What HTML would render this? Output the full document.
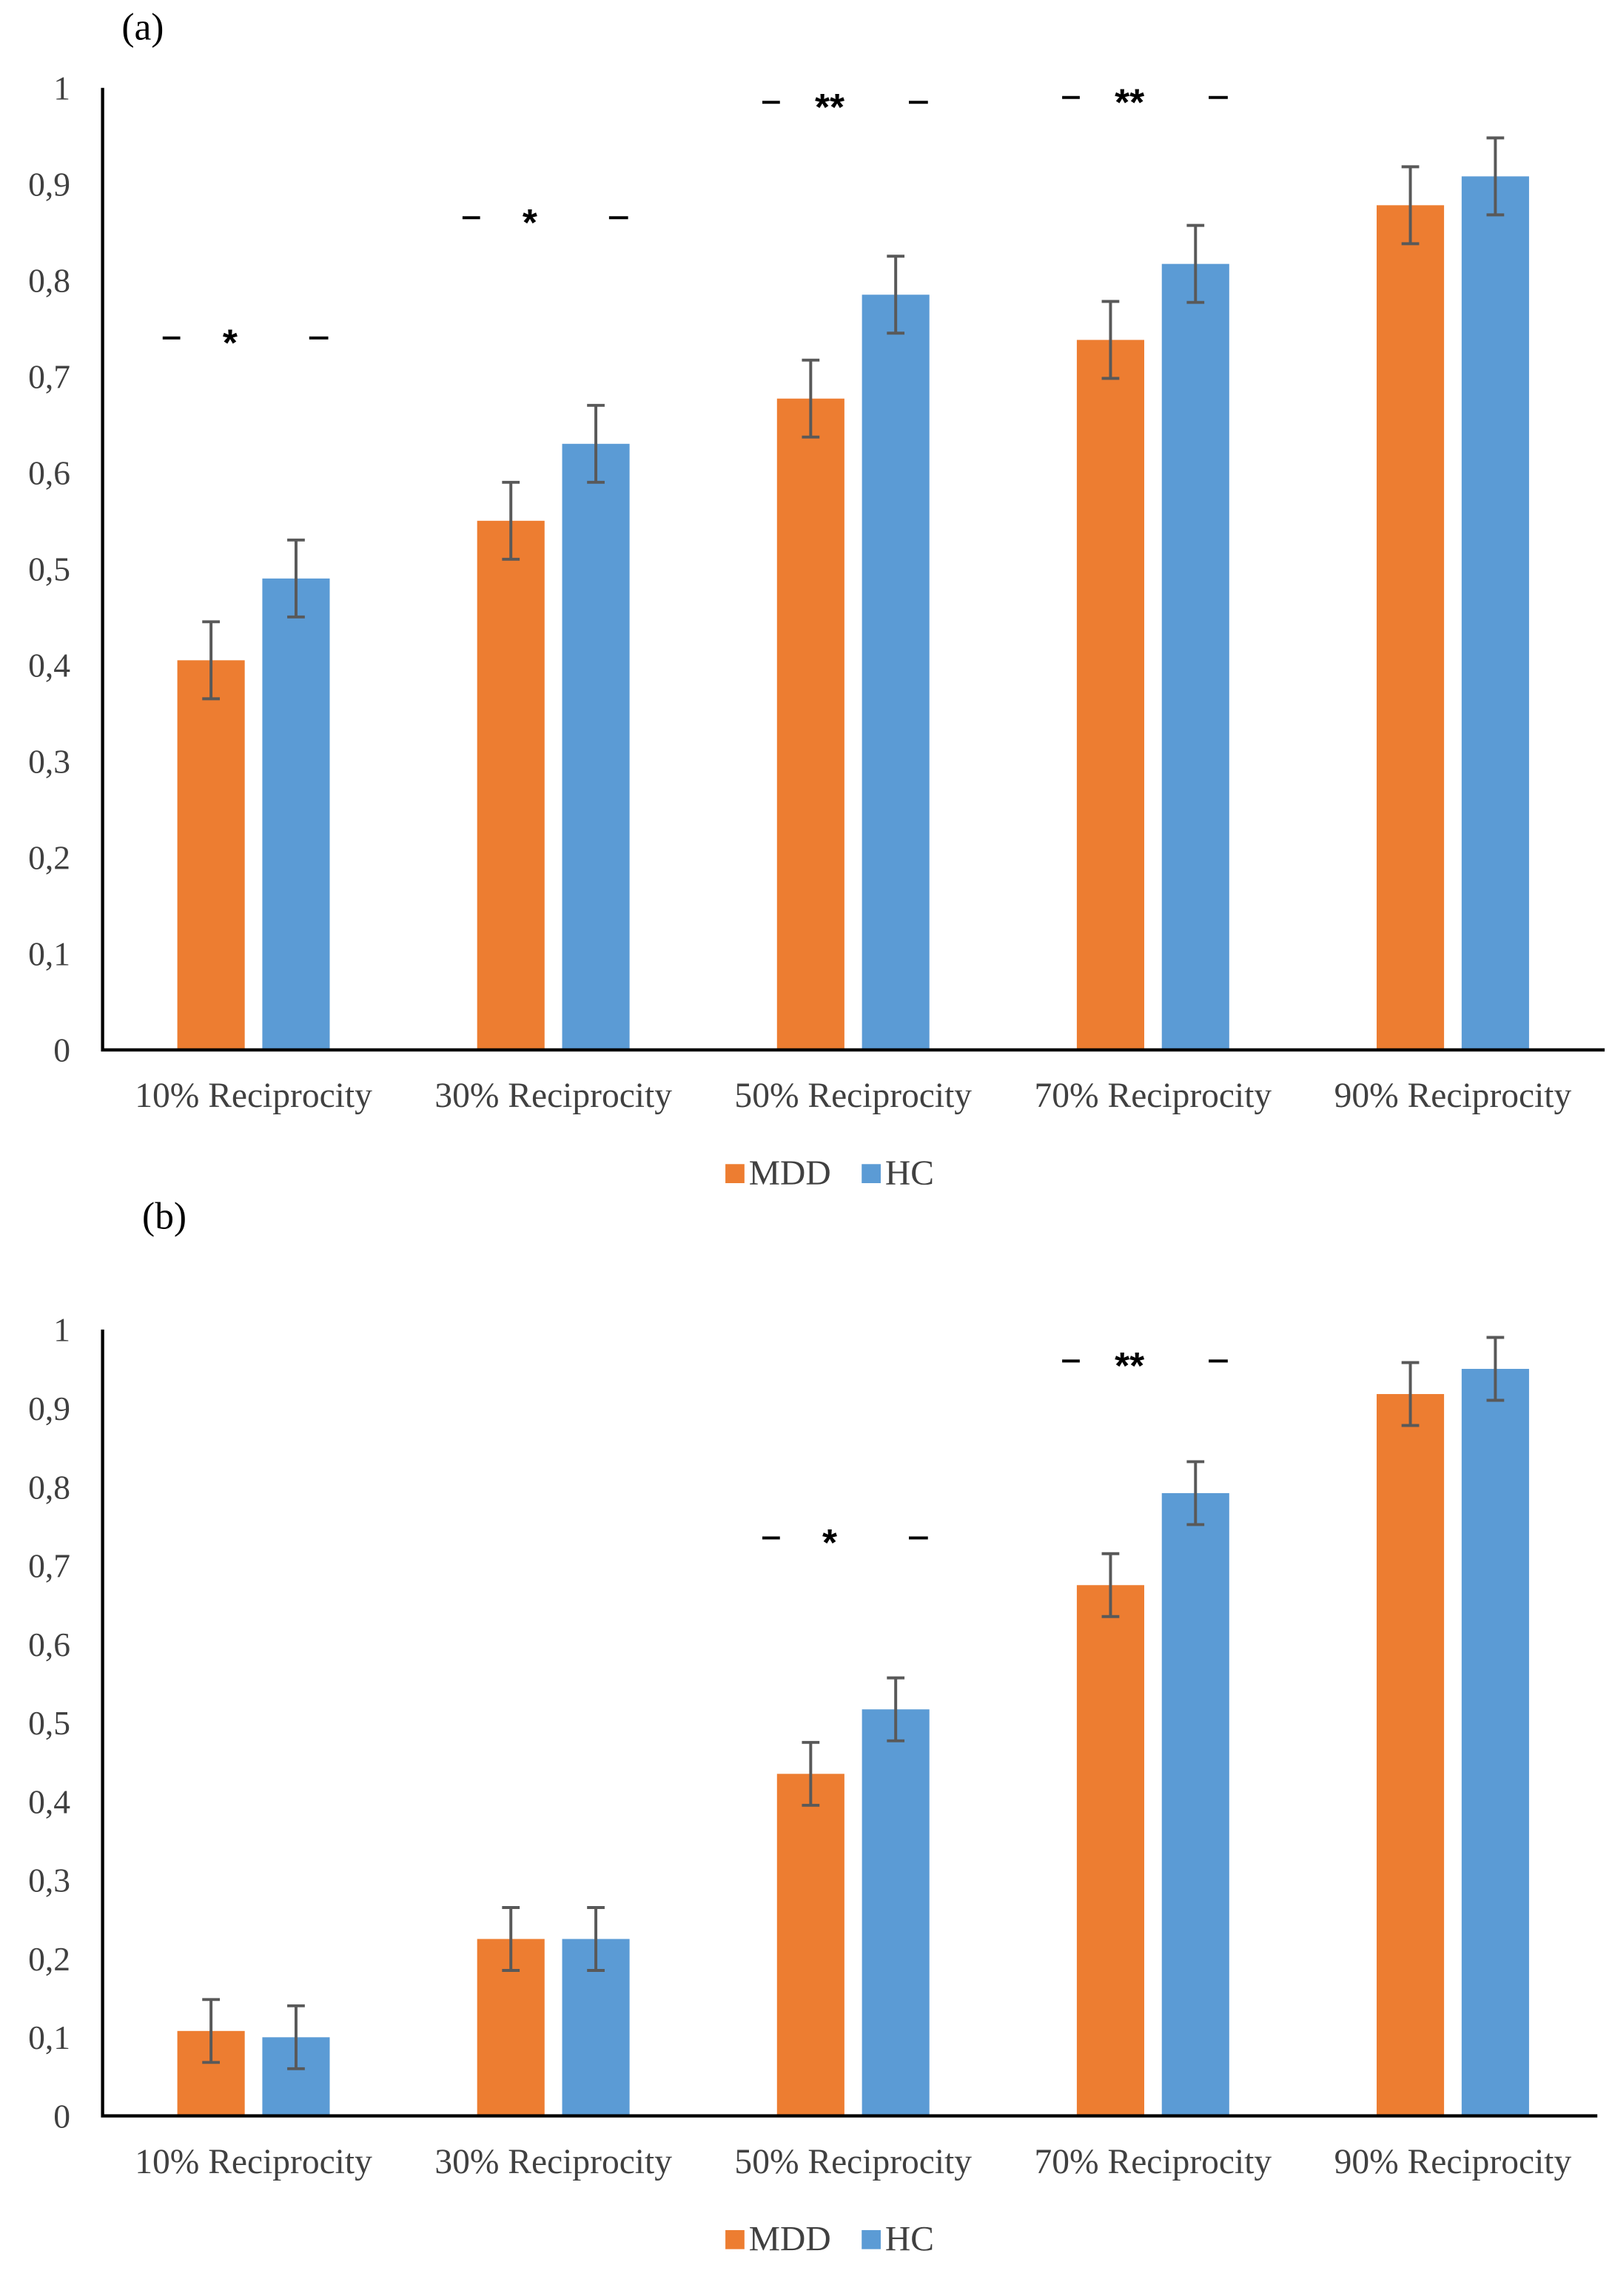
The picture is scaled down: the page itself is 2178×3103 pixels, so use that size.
<!DOCTYPE html>
<html><head><meta charset="utf-8"><style>
html,body{margin:0;padding:0;background:#fff;}
svg{display:block;font-family:"Liberation Serif",serif;}
</style></head><body>
<svg id="fig" width="2178" height="3103" viewBox="0 0 1100 1568" preserveAspectRatio="none" xmlns="http://www.w3.org/2000/svg"></svg>
<script>
const categories = ["10% Reciprocity","30% Reciprocity","50% Reciprocity","70% Reciprocity","90% Reciprocity"];
const ticks = ["0","0,1","0,2","0,3","0,4","0,5","0,6","0,7","0,8","0,9","1"];
const tickValues = [0,0.1,0.2,0.3,0.4,0.5,0.6,0.7,0.8,0.9,1];
const mddA = [0.405,0.55,0.677,0.738,0.878];
const hcA = [0.49,0.63,0.785,0.817,0.908];
const errA = [0.04,0.04,0.04,0.04,0.04];
const mddB = [0.108,0.225,0.435,0.675,0.918];
const hcB = [0.1,0.225,0.517,0.792,0.95];
const errB = [0.04,0.04,0.04,0.04,0.04];
const sigA = [["*",0.74,0],["*",0.865,1],["**",0.985,2],["**",0.99,3]];
const sigB = [["*",0.735,2],["**",0.96,3]];

const NS="http://www.w3.org/2000/svg";
const svg=document.getElementById('fig');
function mk(tag,attrs,parent){const e=document.createElementNS(NS,tag);for(const k in attrs)e.setAttribute(k,attrs[k]);(parent||svg).appendChild(e);return e;}

function chart(cfg){
  const g=mk('g',{});
  
  
  const y=v=>cfg.y0-(cfg.y0-cfg.y1)*v;
  const xc=i=>173+204.6*i;
  const t=mk('text',{x:cfg.lx,y:cfg.ly,'font-size':26,fill:'#000'},g);t.textContent=cfg.label;
  
  
  tickValues.forEach((v,i)=>{
    const tt=mk('text',{x:48,y:y(v)+8,'font-size':23,'text-anchor':'end',fill:'#404040'},g);
    tt.textContent=ticks[i];
    
    
  });
  categories.forEach((c,i)=>{
    [[cfg.mdd,'#ED7D31',-29],[cfg.hc,'#5B9BD5',29]].forEach(([arr,col,off],s)=>{
      const cx=xc(i)+off;
      const r=mk('rect',{x:cx-23,y:y(arr[i]),width:46,height:y(0)-y(arr[i]),fill:col},g);
      
      
      const e=cfg.err[i];
      const p=mk('path',{d:`M${cx} ${y(arr[i]+e)}V${y(arr[i]-e)}M${cx-6} ${y(arr[i]+e)}h12M${cx-6} ${y(arr[i]-e)}h12`,stroke:'#595959','stroke-width':2,fill:'none'},g);
      
      
    });
    const ct=mk('text',{x:xc(i),y:cfg.catY,'font-size':24,'text-anchor':'middle',fill:'#404040'},g);
    ct.textContent=c;
    
    
  });
  cfg.sig.forEach(([s,v,i])=>{
    const yy=y(v);
    const st=mk('text',{x:xc(i)-16,y:yy+12,'font-size':26,'font-family':'Liberation Sans,sans-serif','font-weight':'bold','text-anchor':'middle'},g);
    st.textContent=s;
    
    
    const d=mk('path',{d:`M${xc(i)-62} ${yy}h12M${xc(i)+38} ${yy}h13`,stroke:'#000','stroke-width':2},g);
    
    
  });
  const ax=mk('path',{d:`M70 ${y(1)}V${y(0)}H${cfg.xEnd}`,stroke:'#000','stroke-width':2.2,fill:'none'},g);
  
  
  const lg=mk('g',{},g);
  
  
  mk('rect',{x:495,y:cfg.legY-14,width:13,height:13,fill:'#ED7D31'},lg);
  const l1=mk('text',{x:511,y:cfg.legY,'font-size':24,fill:'#404040'},lg);l1.textContent='MDD';
  
  
  mk('rect',{x:588,y:cfg.legY-14,width:13,height:13,fill:'#5B9BD5'},lg);
  const l2=mk('text',{x:604,y:cfg.legY,'font-size':24,fill:'#404040'},lg);l2.textContent='HC';
  
  
}
chart({name:'chart-a',label:'(a)',lx:83,ly:27,y0:717,y1:60,xEnd:1095,mdd:mddA,hc:hcA,err:errA,sig:sigA,catY:756,legY:809});
chart({name:'chart-b',label:'(b)',lx:97,ly:839,y0:1445,y1:908,xEnd:1090,mdd:mddB,hc:hcB,err:errB,sig:sigB,catY:1484,legY:1537});
</script>
</body></html>
